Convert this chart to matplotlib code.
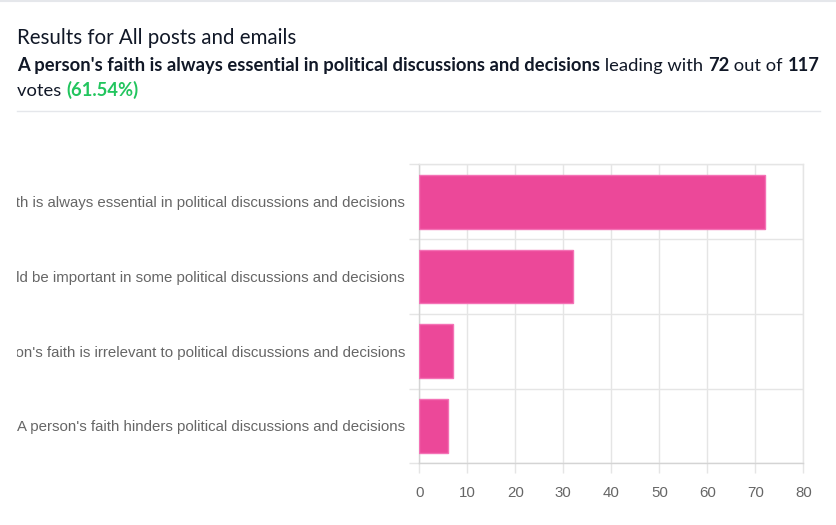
import matplotlib
matplotlib.use('Agg')
import matplotlib.pyplot as plt
from matplotlib.ticker import FixedLocator
from matplotlib.transforms import Bbox
import numpy as np

categories = [
    "A person's faith is always essential in political discussions and decisions",
    "A person's faith should be important in some political discussions and decisions",
    "A person's faith is irrelevant to political discussions and decisions",
    "A person's faith hinders political discussions and decisions",
]
votes = [72, 32, 7, 6]
x_ticks = [0, 10, 20, 30, 40, 50, 60, 70, 80]
total_votes = 117
title = "Results for All posts and emails"

W, H = 836, 525
fig = plt.figure(figsize=(W / 100, H / 100), dpi=100)
fig.patch.set_facecolor('white')

def fx(px):
    return px / W

def fy(py):
    return 1 - py / H

# header
hfont = 'Lato'
dark = '#111827'
fig.text(fx(17), fy(44.5), title, fontsize=14.8, family=hfont, color=dark, va='baseline', ha='left')

renderer = fig.canvas.get_renderer()

def chain(parts, x0, ybase, size):
    x = x0
    for txt, weight, color in parts:
        t = fig.text(fx(x), fy(ybase), txt, fontsize=size, family=hfont, fontweight=weight,
                     color=color, va='baseline', ha='left')
        bb = t.get_window_extent(renderer)
        x = bb.x1
    return x

leader = categories[int(np.argmax(votes))]
lead_votes = max(votes)
pct = lead_votes / total_votes * 100
chain([(leader, 'bold', dark), (" leading with ", 'normal', dark), (str(lead_votes), 'bold', dark),
       (" out of ", 'normal', dark), (str(total_votes), 'bold', dark)], 17, 70.5, 13.2)
chain([("votes ", 'normal', dark), ("(%.2f%%)" % pct, 'bold', '#22C55E')], 17, 95.5, 13.2)

# lines
fig.add_artist(plt.Line2D([0, 1], [fy(1), fy(1)], color='#e5e7eb', lw=1.5, transform=fig.transFigure))
fig.add_artist(plt.Line2D([fx(17), fx(820)], [fy(110.5), fy(110.5)], color='#e5e7eb', lw=1, transform=fig.transFigure))

# chart
ax = fig.add_axes([fx(419.3), fy(463.3), (803.3 - 419.3) / W, (463.3 - 164.3) / H])
y = np.arange(len(categories))
ax.barh(y, votes, height=0.72, color='#EC4899', edgecolor='#F472B6', linewidth=1, zorder=3)
ax.set_ylim(len(categories) - 0.5, -0.5)
ax.set_xlim(0, 80)
ax.set_xticks(x_ticks)
ax.set_xticklabels([str(v) for v in x_ticks])
ax.set_yticks(y)
ax.set_yticklabels(categories)
ax.yaxis.set_minor_locator(FixedLocator(np.arange(-0.5, len(categories) + 0.5, 1.0)))

grid_c = '#e5e5e5'
lab_c = '#666666'
ax.tick_params(axis='y', which='major', length=0, pad=10.3, labelsize=10.8, labelcolor=lab_c)
ax.tick_params(axis='y', which='minor', length=7.2, color=grid_c, width=1)
ax.tick_params(axis='x', which='major', length=7.2, color=grid_c, width=1, pad=9, labelsize=10.8, labelcolor=lab_c)
for lab in ax.get_xticklabels() + ax.get_yticklabels():
    lab.set_family('Liberation Sans')

# the chart container clips its labels at the left padding
clip_bb = Bbox.from_extents(17, 0, W, H)
for lab in ax.get_yticklabels():
    lab.set_clip_box(clip_bb)
    lab.set_clip_on(True)

ax.grid(axis='x', which='major', color=grid_c, lw=1, zorder=0)
ax.grid(axis='y', which='minor', color=grid_c, lw=1, zorder=0)
ax.set_axisbelow(True)
for s in ['top', 'right']:
    ax.spines[s].set_color(grid_c)
for s in ['left', 'bottom']:
    ax.spines[s].set_color('#d4d4d4')
for s in ax.spines.values():
    s.set_linewidth(1)

fig.savefig('out.png', dpi=100, facecolor='white')
